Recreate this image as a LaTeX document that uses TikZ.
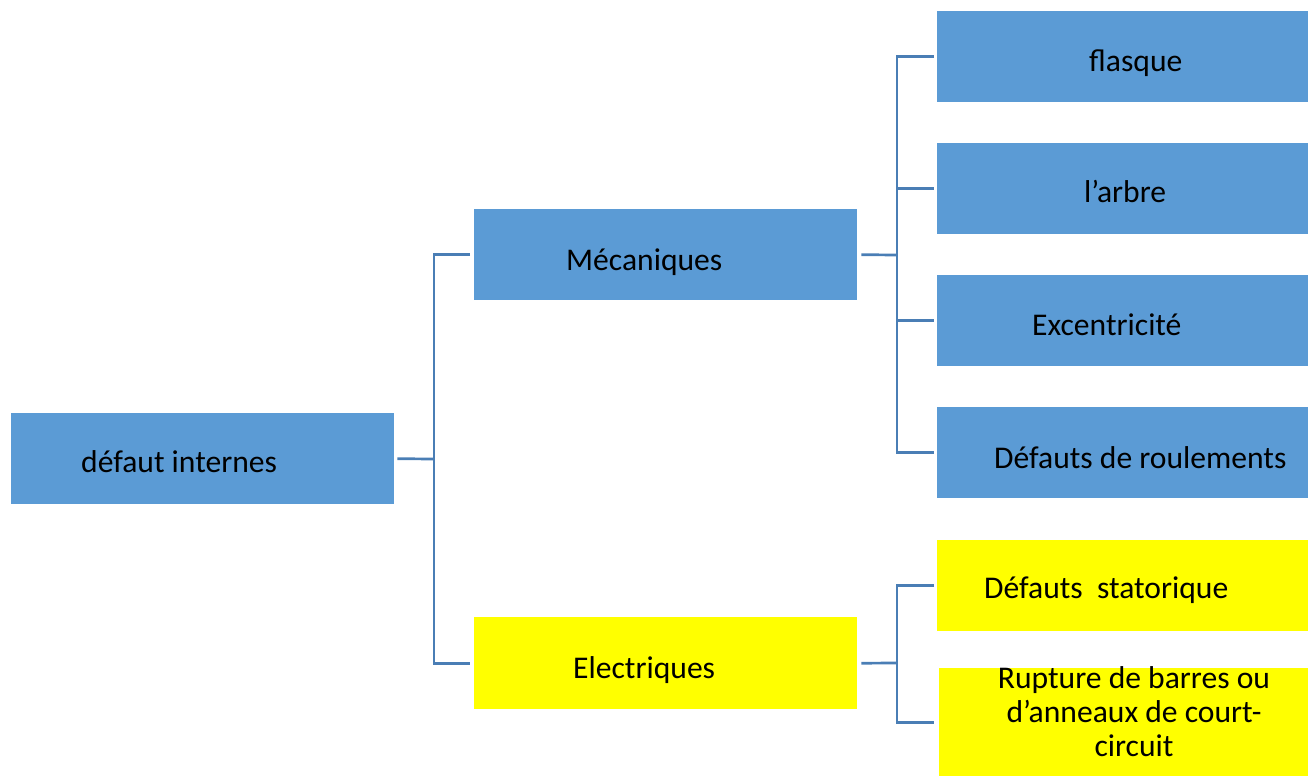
\documentclass[tikz,border=0pt]{standalone}
\usepackage{fontspec}
\setmainfont{Carlito}
\begin{document}
\begin{tikzpicture}[x=1pt,y=-1pt,
  box/.style={draw=none,rectangle,inner sep=0pt,anchor=north west},
  bluebox/.style={box,fill=boxblue},
  yellowbox/.style={box,fill=boxyellow},
  lbl/.style={anchor=base west,inner sep=0pt,font=\fontsize{31.6}{34}\selectfont},
  link/.style={draw=linkblue,line width=2.7pt}]
\definecolor{boxblue}{HTML}{5B9BD5}
\definecolor{boxyellow}{HTML}{FFFF00}
\definecolor{linkblue}{HTML}{4A7EB5}
\useasboundingbox (0,0) rectangle (1308,776);

% boxes
\node[bluebox,minimum width=383pt,minimum height=91pt] (root) at (11,413) {};
\node[bluebox,minimum width=383pt,minimum height=91pt] (meca) at (474,209) {};
\node[yellowbox,minimum width=383pt,minimum height=92pt] (elec) at (474,617) {};
\node[bluebox,minimum width=371pt,minimum height=91pt] (flasque) at (937,11) {};
\node[bluebox,minimum width=371pt,minimum height=91pt] (arbre) at (937,143) {};
\node[bluebox,minimum width=371pt,minimum height=91pt] (exc) at (937,275) {};
\node[bluebox,minimum width=371pt,minimum height=91pt] (roul) at (937,407) {};
\node[yellowbox,minimum width=371pt,minimum height=91pt] (stat) at (937,540) {};
\node[yellowbox,minimum width=369pt,minimum height=108pt] (rupt) at (939,668) {};

% labels
\node[lbl] (troot) at (81,472) {défaut internes};
\node[lbl] (tmeca) at (566,270) {Mécaniques};
\node[lbl] (telec) at (573,678) {Electriques};
\node[lbl] (tflasque) at (1089,71) {flasque};
\node[lbl] (tarbre) at (1084,202) {l’arbre};
\node[lbl] (texc) at (1032,335) {Excentricité};
\node[lbl] (troul) at (994,468) {Défauts de roulements};
\node[lbl] (tstat) at (984,598) {Défauts\ \ statorique};
\node[anchor=center,inner sep=0pt,align=center,font=\fontsize{31.6}{34}\selectfont] (trupt) at (1134,712)
  {Rupture de barres ou\\d’anneaux de court-\\circuit};

% branching connectors
\coordinate (j0) at (434,459);
\coordinate (j1) at (897,255);
\coordinate (j2) at (897,663);
\draw[link] ([xshift=3pt]root.east) -- (j0);
\draw[link] ([xshift=-4pt]meca.west) -- (j0 |- meca.west) -- (j0 |- elec.west)
  -- ([xshift=-4pt]elec.west);

\draw[link] ([xshift=4pt]meca.east) -- (j1);
\draw[link] ([xshift=-3pt]flasque.west) -- (j1 |- flasque.west) -- (j1 |- roul.west)
  -- ([xshift=-3pt]roul.west);
\foreach \t in {arbre,exc}
  \draw[link] (j1 |- \t.west) -- ([xshift=-3pt]\t.west);

\draw[link] ([xshift=4pt]elec.east) -- (j2);
\draw[link] ([xshift=-3pt]stat.west) -- (j2 |- stat.west) -- (j2 |- rupt.west)
  -- ([xshift=-5pt]rupt.west);
\end{tikzpicture}
\end{document}
